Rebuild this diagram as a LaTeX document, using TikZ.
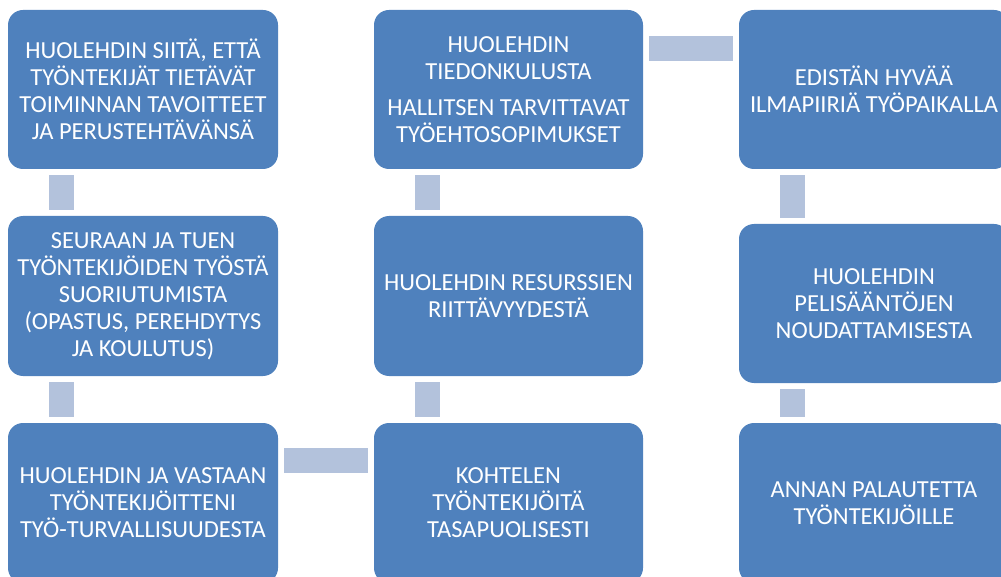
\documentclass[tikz,border=0pt]{standalone}
\usepackage{fontspec}
\setmainfont{Carlito}
\definecolor{boxblue}{HTML}{4F81BD}
\definecolor{barblue}{HTML}{B3C2DC}
\begin{document}
\begin{tikzpicture}[x=1pt,y=-1pt,
  box/.style={rectangle, rounded corners=15pt, fill=boxblue, text=white, align=center,
    inner sep=0pt, minimum width=270pt, minimum height=160pt,
    font=\fontsize{24.5pt}{27pt}\selectfont},
  bar/.style={draw=barblue, line width=25pt, line cap=butt, shorten <=6pt, shorten >=6pt}]
\useasboundingbox (0,0) rectangle (1001,577);
\node[box, minimum height=159pt] (a1) at (143,89.5) {HUOLEHDIN SIITÄ, ETTÄ\\TYÖNTEKIJÄT TIETÄVÄT\\TOIMINNAN TAVOITTEET\\JA PERUSTEHTÄVÄNSÄ};
\node[box] (a2) at (143,296) {SEURAAN JA TUEN\\TYÖNTEKIJÖIDEN TYÖSTÄ\\SUORIUTUMISTA\\(OPASTUS, PEREHDYTYS\\JA KOULUTUS)};
\node[box] (a3) at (143,503) {HUOLEHDIN JA VASTAAN\\TYÖNTEKIJÖITTENI\\TYÖ-TURVALLISUUDESTA};
\node[box, minimum width=269pt, minimum height=159pt] (b1) at (508.5,89.5) {HUOLEHDIN\\TIEDONKULUSTA\\[9pt]HALLITSEN TARVITTAVAT\\TYÖEHTOSOPIMUKSET};
\node[box, minimum width=269pt] (b2) at (508.5,296) {HUOLEHDIN RESURSSIEN\\RIITTÄVYYDESTÄ};
\node[box, minimum width=269pt] (b3) at (508.5,503) {KOHTELEN\\TYÖNTEKIJÖITÄ\\TASAPUOLISESTI};
\node[box, minimum height=159pt] (c1) at (874,89.5) {EDISTÄN HYVÄÄ\\ILMAPIIRIÄ TYÖPAIKALLA};
\node[box, minimum height=159pt] (c2) at (874,303.5) {HUOLEHDIN\\PELISÄÄNTÖJEN\\NOUDATTAMISESTA};
\node[box] (c3) at (874,503) {ANNAN PALAUTETTA\\TYÖNTEKIJÖILLE};
\draw[bar] ([xshift=53.5pt]a1.south west) -- ([xshift=53.5pt]a1.south west |- a2.north);
\draw[bar] ([xshift=53.5pt]a2.south west) -- ([xshift=53.5pt]a2.south west |- a3.north);
\draw[bar] ([yshift=-37.5pt]a3.north east) -- ([yshift=-37.5pt]a3.north east -| b3.west);
\draw[bar] ([xshift=53.5pt]b3.north west) -- ([xshift=53.5pt]b3.north west |- b2.south);
\draw[bar] ([xshift=53.5pt]b2.north west) -- ([xshift=53.5pt]b2.north west |- b1.south);
\draw[bar] ([yshift=-38.5pt]b1.north east) -- ([yshift=-38.5pt]b1.north east -| c1.west);
\draw[bar] ([xshift=53.5pt]c1.south west) -- ([xshift=53.5pt]c1.south west |- c2.north);
\draw[bar] ([xshift=53.5pt]c2.south west) -- ([xshift=53.5pt]c2.south west |- c3.north);
\end{tikzpicture}
\end{document}
